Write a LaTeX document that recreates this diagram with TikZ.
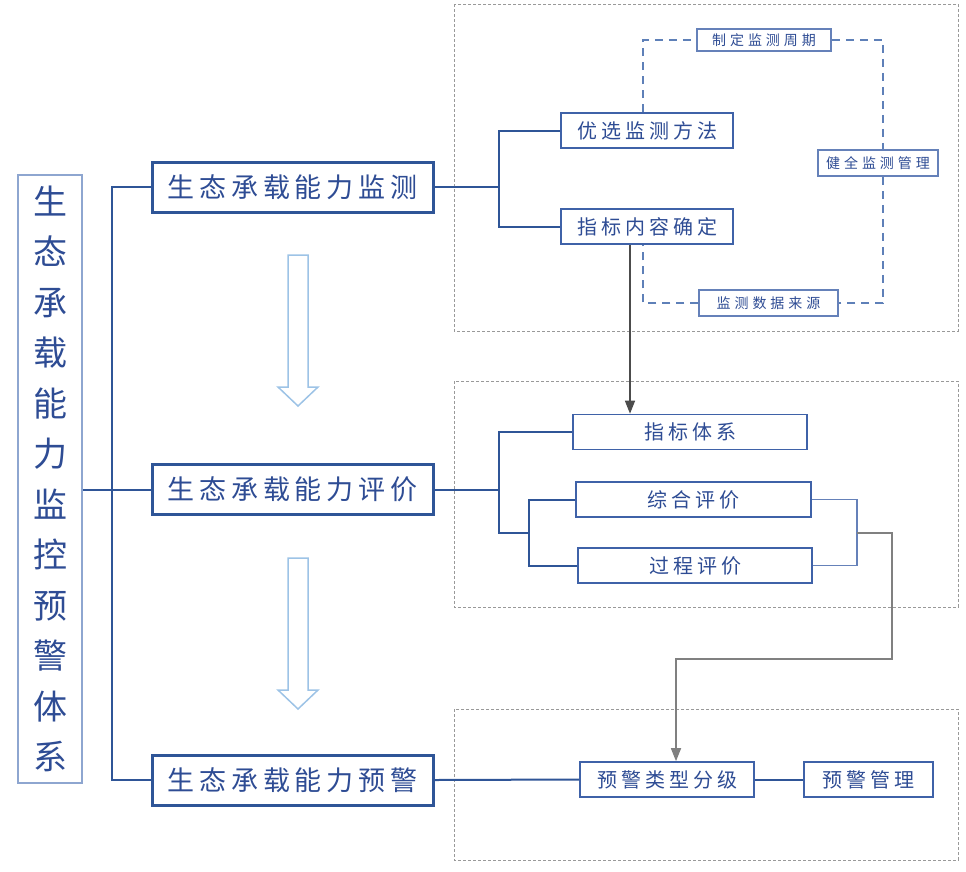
\documentclass[tikz,border=0pt]{standalone}
\usepackage{fontspec}
\usepackage{tikz}
\usetikzlibrary{arrows.meta}

\newfontfamily\cjkfont{Noto Sans CJK SC}
\newfontfamily\cjkwide[LetterSpace=18]{Noto Sans CJK SC}
\newfontfamily\cjkmid[LetterSpace=20]{Noto Sans CJK SC}
\newfontfamily\cjksmall[LetterSpace=28]{Noto Sans CJK SC}

\definecolor{textblue}{HTML}{2E4C94}
\definecolor{mainblue}{HTML}{2F5597}
\definecolor{boxblue}{HTML}{3F62A8}
\definecolor{paleblue}{HTML}{8EA6D0}
\definecolor{loopblue}{HTML}{5E80B8}
\definecolor{arrowblue}{HTML}{9DC3E6}

\begin{document}
\begin{tikzpicture}[
x=1pt, y=-1pt,
titlebox/.style={draw=paleblue, line width=1.5pt, fill=white, text=textblue, align=center, minimum width=64pt, minimum height=608pt, font=\cjkfont\fontsize{34}{50.5}\selectfont},
mainbox/.style={draw=mainblue, line width=3pt, fill=white, text=textblue, minimum width=281pt, minimum height=50pt, font=\cjkwide\fontsize{27}{30}\selectfont},
subbox/.style={draw=boxblue, line width=1.6pt, fill=white, text=textblue, minimum height=35pt, font=\cjkmid\fontsize{20}{22}\selectfont},
tinybox/.style={draw=boxblue!80, line width=1.5pt, fill=white, text=textblue, font=\cjksmall\fontsize{14}{16}\selectfont},
link/.style={draw=mainblue, line width=2pt},
lightlink/.style={draw=boxblue!80, line width=1.5pt},
loop/.style={draw=loopblue, line width=1.5pt, dash pattern=on 8pt off 6pt},
group/.style={draw=gray!80, line width=1pt, dash pattern=on 3pt off 2pt},
flow/.style={draw=black!70, line width=1.5pt, -{Triangle[length=13pt, width=10pt]}},
hollow/.style={draw=arrowblue, line width=1.5pt, fill=white}
]
\useasboundingbox (0,0) rectangle (966,871);

% groups
\draw[group] (454,4) rectangle (958,331);
\draw[group] (454,381) rectangle (958,607);
\draw[group] (454,709) rectangle (958,860);

% hollow arrows
\foreach \t in {255,558}
  \draw[hollow] (288,\t) -- (308,\t) -- (308,\t+132) -- (318,\t+132) -- (298,\t+151) -- (278,\t+132) -- (288,\t+132) -- cycle;

% main column
\node[titlebox] (title) at (50,479) {生\\态\\承\\载\\能\\力\\监\\控\\预\\警\\体\\系};
\node[mainbox] (mon) at (292.5,187) {生态承载能力监测};
\node[mainbox] (eva) at (292.5,489.5) {生态承载能力评价};
\node[mainbox] (war) at (292.5,780) {生态承载能力预警};

% monitoring
\node[subbox, minimum width=172pt] (meth) at (647,130.5) {优选监测方法};
\node[subbox, minimum width=172pt] (cont) at (647,226.5) {指标内容确定};
\node[tinybox, minimum width=134pt, minimum height=22pt] (cycle) at (764,40) {制定监测周期};
\node[tinybox, minimum width=120pt, minimum height=26pt] (mgmt) at (878,163) {健全监测管理};
\node[tinybox, minimum width=139pt, minimum height=26pt] (src) at (768.5,303) {监测数据来源};

% evaluation
\node[subbox, minimum width=234pt] (idx) at (690,432) {指标体系};
\node[subbox, minimum width=235pt] (comp) at (693.5,499.5) {综合评价};
\node[subbox, minimum width=234pt] (proc) at (695,565.5) {过程评价};

% warning
\node[subbox, minimum width=174pt] (grade) at (667,779.5) {预警类型分级};
\node[subbox, minimum width=129pt] (wmgmt) at (868.5,779.5) {预警管理};

% trunk
\draw[link] (title.east |- eva.west) -- (eva.west);
\draw[link] (mon.west) -- ++(-39,0) |- (war.west);

% monitoring branch
\coordinate (jm) at (499,187);
\draw[link] (mon.east) -- (jm);
\draw[link] (meth.west) -| (jm) |- (cont.west);
\coordinate (lt) at ([xshift=-4pt]meth.north);
\coordinate (lb) at ([xshift=-4pt]cont.south);
\coordinate (lr) at ([xshift=5pt]mgmt.north);
\coordinate (lr2) at ([xshift=5pt]mgmt.south);
\draw[loop] (lt) |- (cycle.west);
\draw[loop] (cycle.east) -| (lr);
\draw[loop] (lr2) |- (src.east);
\draw[loop] (src.west) -| (lb);
\coordinate (dn) at ([xshift=-17pt]cont.south);
\draw[flow] (dn) -- (dn |- idx.north);

% evaluation branch
\coordinate (je) at (499,489.5);
\coordinate (jl) at (499,533);
\coordinate (jr) at (529,533);
\coordinate (jo) at (857,533);
\draw[link] (eva.east) -- (je);
\draw[link] (idx.west) -| (jl) -- (jr);
\draw[link] (comp.west) -| (jr) |- (proc.west);
\draw[lightlink] (comp.east) -| (jo) |- (proc.east);
\coordinate (gt) at ([xshift=9pt]grade.north);
\draw[flow, draw=black!50] (jo) -| (892,659) -| (gt);

% warning branch
\draw[link] (war.east) -- (grade.west);
\draw[link] (grade.east) -- (wmgmt.west);
\end{tikzpicture}
\end{document}
